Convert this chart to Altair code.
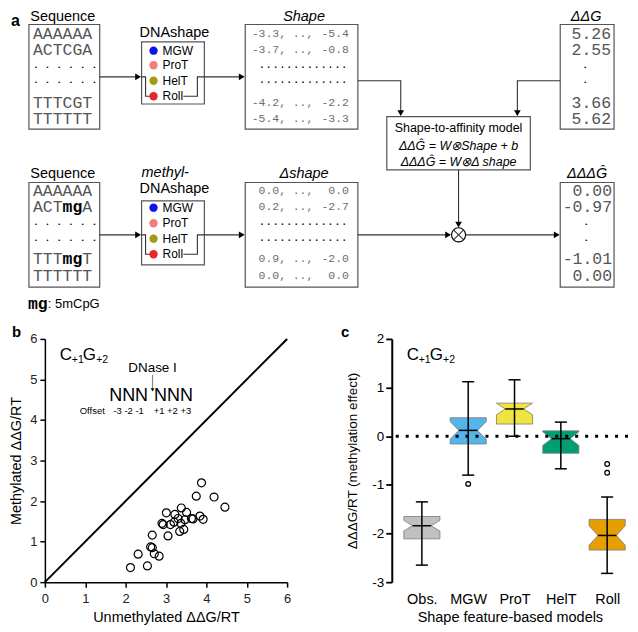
import altair as alt
import pandas as pd

SANS = "Liberation Sans"
MONO = "Liberation Mono"
GRAY = "#555555"
LGRAY = "#6e6e6e"

# ---------------- Panel a : diagram content ----------------
seq_top = ["AAAAAA", "ACTCGA", ". . . . . .", ". . . . . .", "TTTCGT", "TTTTTT"]
seq_bot = [["AAAAAA"], ["ACT", "mg", "A"], [". . . . . ."], [". . . . . ."], ["TTT", "mg", "T"], ["TTTTTT"]]
shape_left = ["-3.3,", "-3.7,", "", "", "-4.2,", "-5.4,"]
shape_right = ["-5.4", "-0.8", "", "", "-2.2", "-3.3"]
dshape_left = ["0.0,", "0.2,", "", "", "0.9,", "0.0,"]
dshape_right = ["0.0", "-2.7", "", "", "-2.0", "0.0"]
ddg_vals = ["5.26", "2.55", ".", ".", "3.66", "5.62"]
dddg_vals = ["0.00", "-0.97", ".", ".", "-1.01", "0.00"]
features = ["MGW", "ProT", "HelT", "Roll"]
feature_colors = ["#1010f0", "#f47c7c", "#a49c10", "#e8262a"]

# ---------------- Panel b data ----------------
unmeth = [3.88, 3.75, 4.19, 4.46, 3.38, 3.01, 3.22, 3.51, 3.30, 3.47, 3.63, 3.67, 3.84, 3.92, 2.90,
          2.93, 3.11, 3.20, 3.05, 3.34, 3.44, 3.37, 2.66, 2.62, 2.66, 2.71, 2.83, 2.31, 2.12, 2.54]
meth = [2.45, 2.12, 2.10, 1.85, 1.83, 1.71, 1.67, 1.72, 1.57, 1.54, 1.57, 1.56, 1.63, 1.55, 1.45,
        1.42, 1.42, 1.48, 1.14, 1.25, 1.30, 1.45, 1.16, 0.87, 0.85, 0.70, 0.64, 0.69, 0.36, 0.40]

# ---------------- Panel c data ----------------
models = ["Obs.", "MGW", "ProT", "HelT", "Roll"]
box_colors = ["#c0c0c0", "#56b4e9", "#f0e442", "#009e73", "#e69f00"]
wlow = [-2.65, -0.80, 0.00, -0.67, -2.82]
q1 = [-2.11, -0.16, 0.25, -0.35, -2.34]
med = [-1.84, 0.12, 0.56, -0.05, -2.04]
q3 = [-1.65, 0.38, 0.68, 0.11, -1.71]
whigh = [-1.35, 1.12, 1.16, 0.29, -1.25]
notch = [0.11, 0.18, 0.12, 0.14, 0.20]
outlier_model = ["MGW", "Roll", "Roll"]
outlier_val = [-0.98, -0.57, -0.75]

# =================== Panel a construction ===================
XA = alt.Scale(domain=[45, 630], nice=False, zero=False)
YA = alt.Scale(domain=[0, 325], nice=False, zero=False, reverse=True)
ax = dict(scale=XA, axis=None)
ay = dict(scale=YA, axis=None)

row_top = [25, 41, 60, 75, 96, 112]
row_bot = [187, 203, 222, 238, 257, 274]
dna_top = [42, 57, 73, 89]
dna_bot = [204, 220, 236, 252]
SEQ_FS = 16.5
CW = 0.6 * SEQ_FS  # monospace char width
DOT_FS = 9.8

T = []  # text, x, y, size, color, style


def add(t, x, y, s, c, st):
    T.append(dict(t=t, x=x, y=y, s=s, c=c, st=st))


add("a", 11, 11, 16, "black", "lb")
add("Sequence", 63, 0, 14.5, "black", "ct")
add("Shape", 305, 0, 14.5, "black", "cti")
add("ΔΔG", 588, 0, 14.5, "black", "cti")
add("DNAshape", 175, 24, 14.5, "black", "c")
for f, yv in zip(features, dna_top):
    add(f, 163, yv, 12, "black", "l")
for s, yv in zip(seq_top, row_top):
    if s.startswith("."):
        add(s, 33, yv - 3, DOT_FS, "black", "mlb")
    else:
        add(s, 33, yv, SEQ_FS, GRAY, "ml")
for l, r, yv in zip(shape_left, shape_right, row_top):
    if l:
        add(l, 287, yv, 11.5, LGRAY, "mr")
        add("..,", 304, yv, 11.5, LGRAY, "mc")
        add(r, 350, yv, 11.5, LGRAY, "mr")
    else:
        add(".............", 304, yv - 3, 11.5, "black", "mc")
for v, yv in zip(ddg_vals, row_top):
    if v == ".":
        add(v, 587, yv - 3, DOT_FS, "black", "mcb")
    else:
        add(v, 613, yv, 16.5, GRAY, "mr")
add("Shape-to-affinity model", 460, 122, 12.5, "black", "c")
add("ΔΔĜ = W⊗Shape + b", 460, 140, 12.5, "black", "ci")
add("ΔΔΔĜ = W⊗Δ shape", 460, 157, 12.5, "black", "ci")

add("Sequence", 63, 169, 14.5, "black", "c")
add("methyl-", 142, 168, 14.5, "black", "li")
add("DNAshape", 175, 185, 14.5, "black", "c")
add("Δshape", 305, 169, 14.5, "black", "ci")
add("ΔΔΔĜ", 589, 169, 14.5, "black", "ci")
for f, yv in zip(features, dna_bot):
    add(f, 163, yv, 12, "black", "l")
for segs, yv in zip(seq_bot, row_bot):
    col = 0
    for sgm in segs:
        if sgm.startswith("."):
            add(sgm, 33, yv - 3, DOT_FS, "black", "mlb")
        elif sgm == "mg":
            add(sgm, 33 + col * CW, yv, SEQ_FS, "black", "mlb")
        else:
            add(sgm, 33 + col * CW, yv, SEQ_FS, GRAY, "ml")
        col += len(sgm)
for l, r, yv in zip(dshape_left, dshape_right, row_bot):
    if l:
        add(l, 287, yv, 11.5, LGRAY, "mr")
        add("..,", 304, yv, 11.5, LGRAY, "mc")
        add(r, 350, yv, 11.5, LGRAY, "mr")
    else:
        add(".............", 304, yv - 3, 11.5, "black", "mc")
for v, yv in zip(dddg_vals, row_bot):
    if v == ".":
        add(v, 588, yv - 3, DOT_FS, "black", "mcb")
    else:
        add(v, 614, yv, 16.5, GRAY, "mr")
add("mg", 28, 303, 16.5, "black", "mlb")
add(": 5mCpG", 48, 303, 13, "black", "l")

STY = {
    "ct": dict(font=SANS, align="center", baseline="top"),
    "cti": dict(font=SANS, fontStyle="italic", align="center", baseline="top"),
    "c": dict(font=SANS, align="center", baseline="middle"),
    "ci": dict(font=SANS, fontStyle="italic", align="center", baseline="middle"),
    "l": dict(font=SANS, align="left", baseline="middle"),
    "li": dict(font=SANS, fontStyle="italic", align="left", baseline="middle"),
    "lb": dict(font=SANS, fontWeight="bold", align="left", baseline="middle"),
    "ml": dict(font=MONO, align="left", baseline="middle"),
    "mlb": dict(font=MONO, fontWeight="bold", align="left", baseline="middle"),
    "mr": dict(font=MONO, align="right", baseline="middle"),
    "mc": dict(font=MONO, align="center", baseline="middle"),
    "mcb": dict(font=MONO, fontWeight="bold", align="center", baseline="middle"),
}
tdf = pd.DataFrame(T)
text_layers = []
for key, props in STY.items():
    sub = tdf[tdf.st == key]
    if len(sub) == 0:
        continue
    text_layers.append(
        alt.Chart(sub).mark_text(**props).encode(
            x=alt.X("x:Q", **ax), y=alt.Y("y:Q", **ay), text="t:N",
            size=alt.Size("s:Q", scale=None), color=alt.Color("c:N", scale=None)))

boxes = [(29, 15, 100, 123), (246, 15, 359, 123), (562, 15, 616, 123), (142, 33, 205, 97),
         (388, 110, 532, 165), (29, 178, 100, 286), (142, 197, 205, 263), (246, 178, 359, 286),
         (562, 178, 616, 286)]
bdfA = pd.DataFrame(boxes, columns=["x1", "y1", "x2", "y2"])
rects = alt.Chart(bdfA).mark_rect(fill="white", stroke="#555555", strokeWidth=1.2).encode(
    x=alt.X("x1:Q", **ax), x2="x2:Q", y=alt.Y("y1:Q", **ay), y2="y2:Q")

polylines = [
    [(100, 69), (140, 69)],
    [(142, 69), (146, 69), (146, 89), (151, 89)],
    [(184, 89), (198, 89), (198, 69), (244, 69)],
    [(359, 73), (402, 73), (402, 108)],
    [(562, 73), (519, 73), (519, 108)],
    [(460, 165), (460, 223)],
    [(100, 232), (140, 232)],
    [(142, 232), (146, 232), (146, 252), (151, 252)],
    [(184, 252), (198, 252), (198, 232), (244, 232)],
    [(359, 232), (451, 232)],
    [(467, 232), (560, 232)],
    [(455.1, 227.1), (464.9, 236.9)],
    [(455.1, 236.9), (464.9, 227.1)],
]
L = []
for i, pl in enumerate(polylines):
    for k, (x, y) in enumerate(pl):
        L.append(dict(id=i, k=k, x=x, y=y))
lines = alt.Chart(pd.DataFrame(L)).mark_line(color="#333333", strokeWidth=1.1).encode(
    x=alt.X("x:Q", **ax), y=alt.Y("y:Q", **ay), detail="id:N", order="k:Q")

heads = [(142, 69, "r"), (246, 69, "r"), (402, 110, "d"), (519, 110, "d"), (460, 225, "d"),
         (142, 232, "r"), (246, 232, "r"), (453, 232, "r"), (562, 232, "r")]
H = []
for x, y, d in heads:
    if d == "r":
        H.append(dict(x=x - 3.5, y=y, shp="triangle-right"))
    else:
        H.append(dict(x=x, y=y - 3.5, shp="triangle-down"))
hdf = pd.DataFrame(H)
head_layers = []
for shp in ["triangle-right", "triangle-down"]:
    head_layers.append(alt.Chart(hdf[hdf.shp == shp]).mark_point(
        shape=shp, filled=True, color="black", size=45, opacity=1).encode(
        x=alt.X("x:Q", **ax), y=alt.Y("y:Q", **ay)))

D = []
for f, c, yv in zip(features, feature_colors, dna_top):
    D.append(dict(x=154, y=yv, col=c))
for f, c, yv in zip(features, feature_colors, dna_bot):
    D.append(dict(x=154, y=yv, col=c))
dots = alt.Chart(pd.DataFrame(D)).mark_point(shape="circle", filled=True, size=70, opacity=1).encode(
    x=alt.X("x:Q", **ax), y=alt.Y("y:Q", **ay), color=alt.Color("col:N", scale=None))
otimes = alt.Chart(pd.DataFrame({"x": [460], "y": [232]})).mark_point(
    shape="circle", filled=False, size=200, color="black", strokeWidth=1.1, opacity=1).encode(
    x=alt.X("x:Q", **ax), y=alt.Y("y:Q", **ay))

panelA = alt.layer(rects, lines, *head_layers, dots, otimes, *text_layers).properties(
    width=585, height=316)


# =================== annotation helper ===================
def ann(t, x, y, size, align="left", baseline="middle", weight="normal", color="black", style="normal"):
    return alt.Chart(pd.DataFrame({"t": [t]})).mark_text(
        font=SANS, fontSize=size, align=align, baseline=baseline, fontWeight=weight,
        fontStyle=style, color=color).encode(x=alt.value(x), y=alt.value(y), text="t:N")


def cg_label():
    return [ann("C", 15, 16, 17), ann("+1", 27, 21, 10.5), ann("G", 38, 16, 17), ann("+2", 51.5, 21, 10.5)]


PH = 244  # plot heights of b and c

# =================== Panel b ===================
XB = alt.Scale(domain=[0, 6], nice=False, zero=False)
YB = alt.Scale(domain=[0, 6], nice=False, zero=False)
axis_common = dict(values=list(range(7)), tickSize=5, tickWidth=1.5, tickColor="black",
                   domainColor="black", domainWidth=1.5, labelFontSize=13, labelColor="#222222",
                   titleFontSize=14.5, titleFontWeight="normal", titleColor="black", grid=False,
                   labelFlush=False, labelFont=SANS, titleFont=SANS)
bdf = pd.DataFrame({"u": unmeth, "m": meth})
pts = alt.Chart(bdf).mark_point(shape="circle", size=64, filled=False, color="black",
                                strokeWidth=1.2, opacity=1).encode(
    x=alt.X("u:Q", scale=XB, axis=alt.Axis(title="Unmethylated ΔΔG/RT", labelPadding=5.5,
                                           titlePadding=4.5, **axis_common)),
    y=alt.Y("m:Q", scale=YB, axis=alt.Axis(title="Methylated ΔΔG/RT", labelPadding=3,
                                           titlePadding=6, **axis_common)))
diag = alt.Chart(pd.DataFrame({"u": [0, 6], "m": [0, 6]})).mark_line(
    color="black", strokeWidth=2).encode(x="u:Q", y="m:Q")
dn_arrow = alt.Chart(pd.DataFrame({"a": [0]})).mark_rule(color="#888888", strokeWidth=1.2).encode(
    x=alt.value(108), y=alt.value(36), y2=alt.value(50))
dn_head = alt.Chart(pd.DataFrame({"a": [0]})).mark_point(
    shape="triangle-down", filled=True, color="black", size=14, opacity=1).encode(
    x=alt.value(108), y=alt.value(51))
panelB = alt.layer(
    diag, pts, dn_arrow, dn_head,
    ann("b", -33, -13.5, 15, baseline="top", weight="bold"),
    *cg_label(),
    ann("DNase I", 108, 29.5, 13.5, align="center"),
    ann("NNN", 84, 57, 18, align="center"),
    ann("NNN", 129, 57, 18, align="center"),
    ann("Offset", 35, 72, 9.5),
    ann("-3 -2 -1", 84, 72, 9.5, align="center"),
    ann("+1 +2 +3", 128, 72, 9.5, align="center"),
).properties(width=243, height=PH)

# =================== Panel c ===================
HW, IND, CAP = 0.39, 0.19, 0.13
P = []
for i, m in enumerate(models):
    c = i + 1
    nt = min(med[i] + notch[i], q3[i])
    nb = max(med[i] - notch[i], q1[i])
    prof = [(q1[i], 0), (nb, 0), (med[i], 1), (nt, 0), (q3[i], 0)]
    for k, (yv, p) in enumerate(prof):
        P.append(dict(model=m, k=k, y=yv, x=c - HW + IND * p, x2=c + HW - IND * p))
pdf = pd.DataFrame(P)
cdf = pd.DataFrame({"model": models, "c": list(range(1, 6)), "lo": wlow, "med": med, "hi": whigh})
cdf["ml"] = cdf.c - (HW - IND)
cdf["mr"] = cdf.c + (HW - IND)
cdf["cl"] = cdf.c - CAP
cdf["cr"] = cdf.c + CAP
odf = pd.DataFrame({"model": outlier_model, "v": outlier_val})
odf["c"] = [models.index(m) + 1 for m in outlier_model]

XC = alt.Scale(domain=[0.35, 5.45], nice=False, zero=False)
YC = alt.Scale(domain=[-3, 2], nice=False, zero=False)
label_expr = "[" + ",".join("'%s'" % m for m in models) + "][datum.value - 1]"
xc_axis = alt.Axis(title="Shape feature-based models", values=[1, 2, 3, 4, 5], labelExpr=label_expr,
                   ticks=False, domain=False, grid=False, labelFontSize=14.5, labelPadding=10,
                   labelColor="black", titleFontSize=14.5, titleFontWeight="normal", titlePadding=4.5,
                   labelFlush=False, labelFont=SANS, titleFont=SANS)
yc_axis = alt.Axis(title="ΔΔΔG/RT (methylation effect)", values=[-3, -2, -1, 0, 1, 2],
                   labelExpr="'' + datum.value", tickSize=6, tickWidth=1.8, tickColor="black",
                   domainColor="black", domainWidth=2, grid=False, labelFontSize=13.5,
                   labelColor="black", labelPadding=2, titleFontSize=13.5, titleFontWeight="normal",
                   titlePadding=12, labelFont=SANS, titleFont=SANS)
areas = alt.Chart(pdf).mark_area(orient="horizontal", stroke="#7a7a7a", strokeWidth=0.8,
                                 opacity=1, fillOpacity=1).encode(
    y=alt.Y("y:Q", scale=YC, axis=yc_axis),
    x=alt.X("x:Q", scale=XC, axis=xc_axis), x2="x2:Q",
    color=alt.Color("model:N", scale=alt.Scale(domain=models, range=box_colors), legend=None),
    detail="model:N")
zero = alt.Chart(pd.DataFrame({"z": [0]})).mark_rule(
    color="black", strokeWidth=3, strokeDash=[3, 7]).encode(y="z:Q")
whisk = alt.Chart(cdf).mark_rule(color="black", strokeWidth=1.5).encode(x="c:Q", y="lo:Q", y2="hi:Q")
medl = alt.Chart(cdf).mark_rule(color="black", strokeWidth=1.5).encode(x="ml:Q", x2="mr:Q", y="med:Q")
capl = alt.Chart(cdf).mark_rule(color="black", strokeWidth=1.5).encode(x="cl:Q", x2="cr:Q", y="lo:Q")
caph = alt.Chart(cdf).mark_rule(color="black", strokeWidth=1.5).encode(x="cl:Q", x2="cr:Q", y="hi:Q")
outl = alt.Chart(odf).mark_point(shape="circle", size=22, filled=False, color="black",
                                 strokeWidth=1.3, opacity=1).encode(x="c:Q", y="v:Q")
panelC = alt.layer(
    areas, zero, whisk, medl, capl, caph, outl,
    ann("c", -51, -13.5, 15, baseline="top", weight="bold"),
    *cg_label(),
).properties(width=237, height=PH)

row2 = alt.hconcat(panelB, panelC, spacing=50)
chart = alt.vconcat(panelA, row2, spacing=0).properties(padding=0).configure(
    font=SANS, view=alt.ViewConfig(stroke=None))

chart.save("out.html", embed_options={"renderer": "svg", "actions": False})
